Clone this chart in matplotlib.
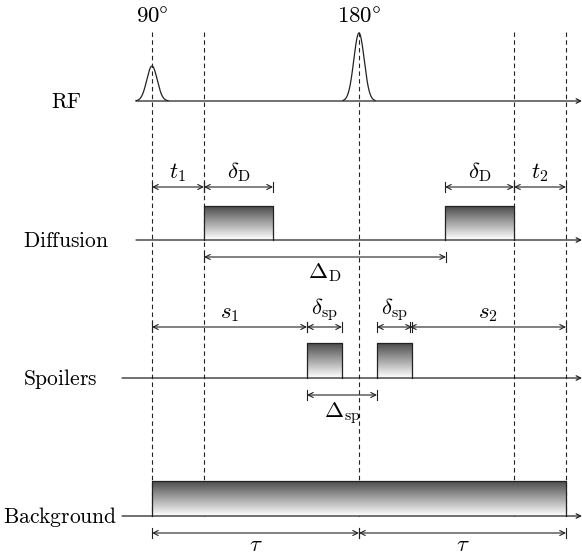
import numpy as np
import matplotlib
matplotlib.use("Agg")
from matplotlib import pyplot as plt

plt.rcParams['mathtext.fontset'] = 'cm'
plt.rcParams['font.family'] = 'serif'

# time axis (arbitrary units, 0 = 90 deg pulse, tau = echo time / 2)
tau = 207
t1 = 52
dD = 69
DeltaD = 242
t2 = 52
s1 = 155
dsp = 35
Deltasp = 70
s2 = 156
rf_times = [0, tau]
rf_amp = [35, 68]
rf_labels = [r'$90\degree$', r'$180\degree$']
rows = ['RF', 'Diffusion', 'Spoilers', 'Background']
row_y = [101, 240, 378, 516]
dashed_t = [0, t1, tau, 2 * tau - t2, 2 * tau]

fig = plt.figure(figsize=(5.82, 5.55), dpi=100)
ax = fig.add_axes([0, 0, 1, 1])
ax.axis('off')
ax.set_autoscale_on(False)
ax.set_xlim(-152, 430)
ax.set_ylim(555, 0)

lc = '#222222'
fs = 16.5


def dim(a, b, y, label, above=True, off=3):
    ax.annotate('', xy=(b, y), xytext=(a, y),
                arrowprops=dict(arrowstyle='<->', lw=0.8, color=lc,
                                mutation_scale=9, shrinkA=0, shrinkB=0))
    for x in (a, b):
        ax.plot([x, x], [y - 5, y + 5], color=lc, lw=0.8)
    if above:
        ax.text((a + b) / 2, y - off, label, ha='center', va='bottom', fontsize=fs)
    else:
        ax.text((a + b) / 2, y + off, label, ha='center', va='top', fontsize=fs)


def grad_box(a, b, ybase, h):
    g = np.linspace(0.3, 1.0, 64)[:, None]
    ax.imshow(g, cmap='gray', vmin=0, vmax=1, extent=[a, b, ybase, ybase - h],
              origin='upper', aspect='auto', interpolation='bilinear', zorder=2)
    ax.plot([a, a, b, b], [ybase, ybase - h, ybase - h, ybase], color=lc, lw=0.9, zorder=3)


# dashed timing lines
for t in dashed_t:
    ax.plot([t, t], [32, row_y[3]], color=lc, lw=0.8, ls=(0, (4, 3)), zorder=1)

# baselines and row labels
starts = [-16, -16, -30, -30]
label_x = [-86, -86, -92, -92]
for name, y, s, lx in zip(rows, row_y, starts, label_x):
    ax.annotate('', xy=(430, y), xytext=(s, y),
                arrowprops=dict(arrowstyle='->', lw=0.9, color=lc,
                                mutation_scale=8, shrinkA=0, shrinkB=0))
    ax.text(lx, y + 1, r'$\mathrm{%s}$' % name, ha='center', va='center', fontsize=15.5)

# RF pulses
for t, amp, lab in zip(rf_times, rf_amp, rf_labels):
    x = np.linspace(-16, 16, 200)
    ax.plot(t + x, row_y[0] - amp * np.exp(-x ** 2 / (2 * 5.2 ** 2)), color=lc, lw=0.9)
    ax.text(t, 16, lab, ha='center', va='center', fontsize=fs)

# diffusion gradients
yd = row_y[1]
grad_box(t1, t1 + dD, yd, 34)
grad_box(2 * tau - t2 - dD, 2 * tau - t2, yd, 34)
dim(0, t1, 187, r'$t_1$')
dim(t1, t1 + dD, 187, r'$\delta_\mathrm{D}$')
dim(2 * tau - t2 - dD, 2 * tau - t2, 187, r'$\delta_\mathrm{D}$')
dim(2 * tau - t2, 2 * tau, 187, r'$t_2$')
dim(t1, t1 + DeltaD, 257, r'$\Delta_\mathrm{D}$', above=False, off=4)

# spoilers
ys = row_y[2]
grad_box(s1, s1 + dsp, ys, 35)
grad_box(s1 + Deltasp, s1 + Deltasp + dsp, ys, 35)
dim(0, s1, 327, r'$s_1$')
dim(s1, s1 + dsp, 327, r'$\delta_\mathrm{sp}$')
dim(s1 + Deltasp, s1 + Deltasp + dsp, 327, r'$\delta_\mathrm{sp}$')
dim(2 * tau - s2, 2 * tau, 327, r'$s_2$')
dim(s1, s1 + Deltasp, 395, r'$\Delta_\mathrm{sp}$', above=False, off=6)

# background
grad_box(0, 2 * tau, row_y[3], 35)
dim(0, tau, 533, r'$\tau$', above=False, off=1)
dim(tau, 2 * tau, 533, r'$\tau$', above=False, off=1)

fig.savefig('out.png', dpi=100)
